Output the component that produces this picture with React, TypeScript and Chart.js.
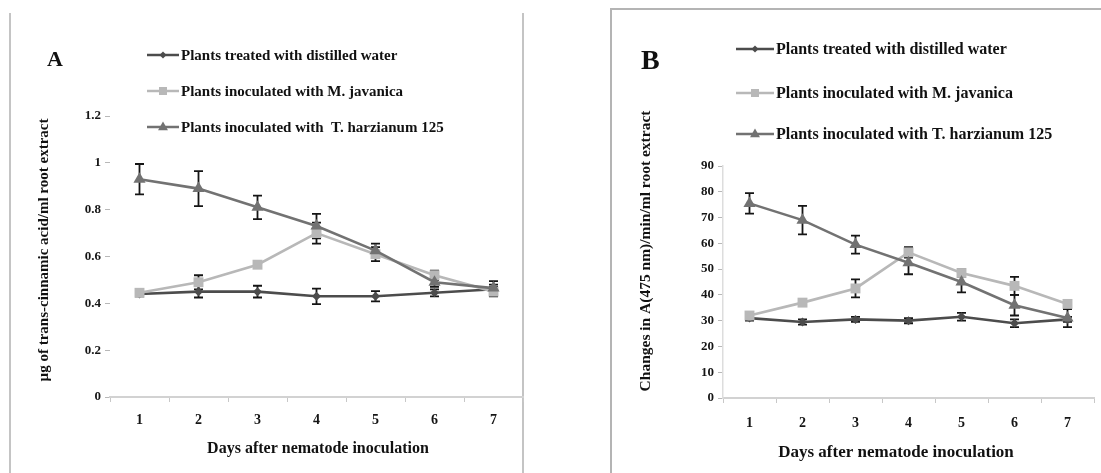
import React, { useEffect, useRef } from 'react';
import { Chart, registerables } from 'chart.js';

Chart.register(...registerables);

// ---------- data ----------
const days = ['1', '2', '3', '4', '5', '6', '7'];
const seriesLabelsA = [
  'Plants treated with distilled water',
  'Plants inoculated with M. javanica',
  'Plants inoculated with  T. harzianum 125',
];
const seriesLabelsB = [
  'Plants treated with distilled water',
  'Plants inoculated with M. javanica',
  'Plants inoculated with T. harzianum 125',
];

const aDistilled = [0.44, 0.45, 0.45, 0.43, 0.43, 0.445, 0.46];
const aDistilledErr = [0.01, 0.025, 0.025, 0.033, 0.022, 0.015, 0.02];
const aJavanica = [0.445, 0.49, 0.565, 0.70, 0.61, 0.52, 0.45];
const aJavanicaErr = [0.01, 0.03, 0.01, 0.045, 0.03, 0.02, 0.02];
const aHarzianum = [0.93, 0.89, 0.81, 0.73, 0.625, 0.49, 0.465];
const aHarzianumErr = [0.065, 0.075, 0.05, 0.052, 0.03, 0.02, 0.03];

const bDistilled = [31, 29.5, 30.5, 30, 31.5, 29, 30.5];
const bDistilledErr = [1, 1, 1, 1, 1.5, 1.5, 1];
const bJavanica = [32, 37, 42.5, 56.5, 48.5, 43.5, 36.5];
const bJavanicaErr = [1, 1, 3.5, 2, 1.5, 3.5, 1.5];
const bHarzianum = [75.5, 69, 59.5, 52.5, 45, 36, 31];
const bHarzianumErr = [4, 5.5, 3.5, 4.5, 4, 4, 3.5];

const aYTickLabels = ['0', '0.2', '0.4', '0.6', '0.8', '1', '1.2'];
const bYTickLabels = ['0', '10', '20', '30', '40', '50', '60', '70', '80', '90'];

const xTitle = 'Days after nematode inoculation';
const aYTitle = 'µg of trans-cinnamic acid/ml root extract';
const bYTitle = 'Changes in A(475 nm)/min/ml root extract';

// ---------- styles ----------
const SERIF = '"Liberation Serif", "Times New Roman", serif';
const colors = ['#4c4c4c', '#b8b8b8', '#727272'];
const pointStyles = ['rectRot', 'rect', 'triangle'];
const pointRadii = [4.5, 7, 7];
const legendRadii = [3.5, 5, 5.5];

type PanelCfg = {
  left: number;
  width: number;
  pad: { top: number; right: number };
  yWidth: number;
  xHeight: number;
  yMax: number;
  yStep: number;
  yLabels: string[];
  series: number[][];
  errors: number[][];
  labels: string[];
  letter: string;
  letterSize: number;
  letterX: number;
  letterY: number;
  legendX1: number;
  legendX2: number;
  legendYs: number[];
  legendFont: number;
  yTitle: string;
  yTitleX: number;
  yTitleY: number;
  yTitleFont: number;
  xTitleX: number;
  xTitleY: number;
  xTitleFont: number;
  yAxisLine: boolean;
  xTickPad: number;
};

const panelA: PanelCfg = {
  left: 0,
  width: 550,
  pad: { top: 116, right: 27 },
  yWidth: 110,
  xHeight: 76,
  yMax: 1.2,
  yStep: 0.2,
  yLabels: aYTickLabels,
  series: [aDistilled, aJavanica, aHarzianum],
  errors: [aDistilledErr, aJavanicaErr, aHarzianumErr],
  labels: seriesLabelsA,
  letter: 'A',
  letterSize: 22,
  letterX: 47,
  letterY: 60,
  legendX1: 147,
  legendX2: 179,
  legendYs: [55, 91, 127],
  legendFont: 15,
  yTitle: aYTitle,
  yTitleX: 44,
  yTitleY: 250,
  yTitleFont: 15,
  xTitleX: 318,
  xTitleY: 449,
  xTitleFont: 16,
  yAxisLine: false,
  xTickPad: 10,
};

const panelB: PanelCfg = {
  left: 550,
  width: 551,
  pad: { top: 166, right: 0 },
  yWidth: 173,
  xHeight: 75,
  yMax: 90,
  yStep: 10,
  yLabels: bYTickLabels,
  series: [bDistilled, bJavanica, bHarzianum],
  errors: [bDistilledErr, bJavanicaErr, bHarzianumErr],
  labels: seriesLabelsB,
  letter: 'B',
  letterSize: 28,
  letterX: 91,
  letterY: 62,
  legendX1: 186,
  legendX2: 224,
  legendYs: [49, 93, 134],
  legendFont: 16,
  yTitle: bYTitle,
  yTitleX: 96,
  yTitleY: 251,
  yTitleFont: 15.5,
  xTitleX: 346,
  xTitleY: 453,
  xTitleFont: 17,
  yAxisLine: true,
  xTickPad: 12,
};

// Error bars are drawn before the series so markers sit on top of them.
const errorBarPlugin = {
  id: 'errorBars',
  beforeDatasetsDraw(chart: any) {
    const ctx = chart.ctx;
    const y = chart.scales.y;
    chart.data.datasets.forEach((ds: any, i: number) => {
      const errs: number[] = ds.errors;
      if (!errs) return;
      const meta = chart.getDatasetMeta(i);
      meta.data.forEach((pt: any, j: number) => {
        const v = ds.data[j];
        const e = errs[j];
        const top = y.getPixelForValue(v + e);
        const bot = y.getPixelForValue(v - e);
        ctx.save();
        ctx.strokeStyle = '#151515';
        ctx.lineWidth = 1.8;
        ctx.beginPath();
        ctx.moveTo(pt.x, top);
        ctx.lineTo(pt.x, bot);
        ctx.moveTo(pt.x - 4.5, top);
        ctx.lineTo(pt.x + 4.5, top);
        ctx.moveTo(pt.x - 4.5, bot);
        ctx.lineTo(pt.x + 4.5, bot);
        ctx.stroke();
        ctx.restore();
      });
    });
  },
};

function drawMarker(ctx: CanvasRenderingContext2D, style: string, x: number, y: number, r: number, color: string) {
  ctx.fillStyle = color;
  ctx.beginPath();
  if (style === 'rectRot') {
    ctx.moveTo(x, y - r);
    ctx.lineTo(x + r, y);
    ctx.lineTo(x, y + r);
    ctx.lineTo(x - r, y);
  } else if (style === 'rect') {
    ctx.rect(x - r * 0.8, y - r * 0.8, r * 1.6, r * 1.6);
  } else {
    ctx.moveTo(x, y - r);
    ctx.lineTo(x + r * 0.9, y + r * 0.6);
    ctx.lineTo(x - r * 0.9, y + r * 0.6);
  }
  ctx.closePath();
  ctx.fill();
}

function makeTextPlugin(p: PanelCfg) {
  return {
    id: 'panelText',
    afterDraw(chart: any) {
      const ctx: CanvasRenderingContext2D = chart.ctx;
      ctx.save();
      ctx.fillStyle = '#111';
      ctx.font = `bold ${p.letterSize}px ${SERIF}`;
      ctx.textAlign = 'left';
      ctx.textBaseline = 'middle';
      ctx.fillText(p.letter, p.letterX, p.letterY);
      p.labels.forEach((lab, i) => {
        const y = p.legendYs[i];
        ctx.strokeStyle = colors[i];
        ctx.lineWidth = 2.5;
        ctx.beginPath();
        ctx.moveTo(p.legendX1, y);
        ctx.lineTo(p.legendX2, y);
        ctx.stroke();
        drawMarker(ctx, pointStyles[i], (p.legendX1 + p.legendX2) / 2, y, legendRadii[i], colors[i]);
        ctx.fillStyle = '#111';
        ctx.font = `bold ${p.legendFont}px ${SERIF}`;
        ctx.textAlign = 'left';
        ctx.textBaseline = 'middle';
        ctx.fillText(lab, p.legendX2 + 2, y + 1);
      });
      ctx.font = `bold ${p.xTitleFont}px ${SERIF}`;
      ctx.textAlign = 'center';
      ctx.textBaseline = 'middle';
      ctx.fillText(xTitle, p.xTitleX, p.xTitleY);
      ctx.translate(p.yTitleX, p.yTitleY);
      ctx.rotate(-Math.PI / 2);
      ctx.font = `bold ${p.yTitleFont}px ${SERIF}`;
      ctx.fillText(p.yTitle, 0, 0);
      ctx.restore();
    },
  };
}

function Panel({ p }: { p: PanelCfg }) {
  const ref = useRef<HTMLCanvasElement | null>(null);
  useEffect(() => {
    if (!ref.current) return;
    const chart = new Chart(ref.current, {
      type: 'line',
      data: {
        labels: days,
        datasets: p.series.map((s, i) => ({
          label: p.labels[i],
          data: s,
          errors: p.errors[i],
          borderColor: colors[i],
          backgroundColor: colors[i],
          borderWidth: 2.6,
          pointStyle: pointStyles[i],
          pointRadius: pointRadii[i],
          pointBorderWidth: 0,
          pointBackgroundColor: colors[i],
          tension: 0,
          order: 2 - i,
        })) as any,
      },
      options: {
        animation: false,
        responsive: false,
        devicePixelRatio: 1,
        layout: { padding: { top: p.pad.top, right: p.pad.right, left: 0, bottom: 0 } },
        plugins: { legend: { display: false }, tooltip: { enabled: false }, title: { display: false } },
        scales: {
          x: {
            type: 'category',
            offset: true,
            grid: { offset: true, drawOnChartArea: false, drawTicks: true, tickLength: 5, color: '#c8c8c8' },
            border: { display: true, color: '#d2d2d2', width: 2 },
            ticks: {
              color: '#151515',
              padding: p.xTickPad,
              font: { family: SERIF, weight: 'bold', size: 14 },
            },
            afterFit: (s: any) => {
              s.height = p.xHeight;
            },
          },
          y: {
            min: 0,
            max: p.yMax,
            ticks: {
              stepSize: p.yStep,
              color: '#151515',
              padding: 4,
              font: { family: SERIF, weight: 'bold', size: 13 },
              callback: (_v: any, idx: number) => p.yLabels[idx],
            },
            grid: { drawOnChartArea: false, drawTicks: true, tickLength: 5, color: '#b8b8b8' },
            border: { display: p.yAxisLine, color: '#dddddd', width: 1.5 },
            afterFit: (s: any) => {
              s.width = p.yWidth;
            },
          },
        },
      } as any,
      plugins: [errorBarPlugin, makeTextPlugin(p)],
    });
    return () => chart.destroy();
  }, [p]);
  return (
    <canvas
      ref={ref}
      width={p.width}
      height={473}
      style={{ position: 'absolute', left: p.left, top: 0, width: p.width, height: 473 }}
    />
  );
}

export default function App() {
  return (
    <div
      style={{
        position: 'absolute',
        left: 0,
        top: 0,
        width: 1101,
        height: 473,
        background: '#ffffff',
        overflow: 'hidden',
      }}
    >
      <div style={{ position: 'absolute', left: 9, top: 13, width: 2, height: 460, background: '#c4c4c4' }} />
      <div style={{ position: 'absolute', left: 522, top: 13, width: 2, height: 460, background: '#c4c4c4' }} />
      <div style={{ position: 'absolute', left: 610, top: 8, width: 2, height: 465, background: '#b4b4b4' }} />
      <div style={{ position: 'absolute', left: 610, top: 8, width: 491, height: 2, background: '#b4b4b4' }} />
      <Panel p={panelA} />
      <Panel p={panelB} />
    </div>
  );
}
